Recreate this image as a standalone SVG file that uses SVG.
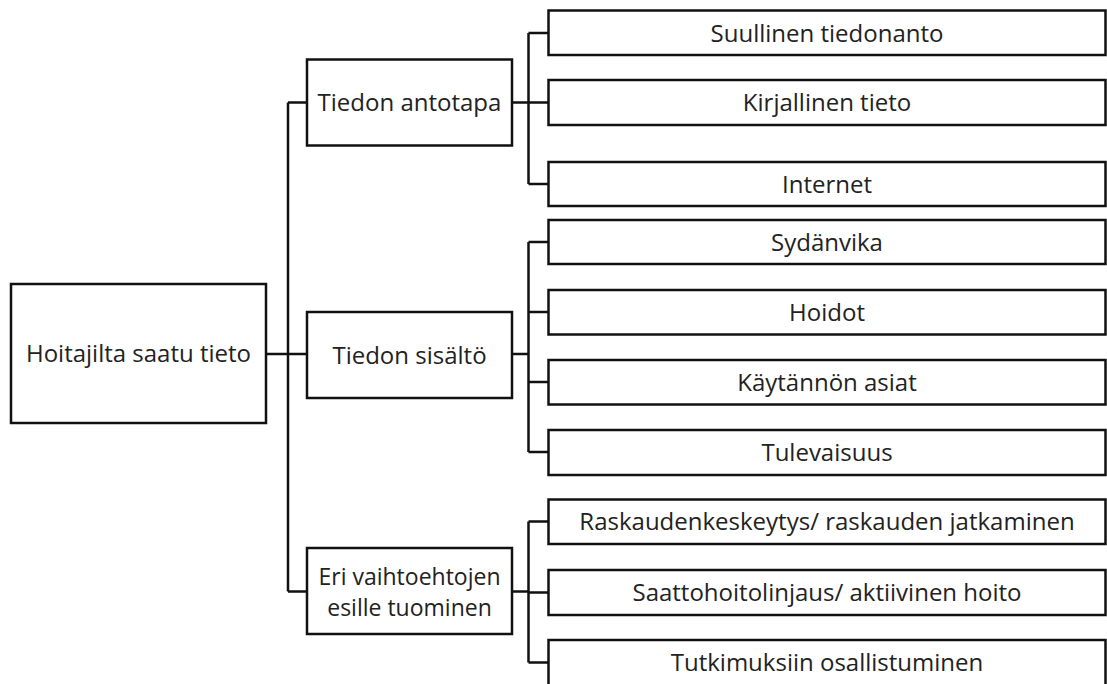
<svg xmlns="http://www.w3.org/2000/svg" width="1107" height="684" viewBox="0 0 1107 684">
<style>
.box{fill:#fff;stroke:#111;stroke-width:2.5}
.t{font-family:"Open Sans","Liberation Sans",sans-serif;font-size:24px;fill:#222;text-anchor:middle}
.t2{font-size:23px}
.c{fill:none;stroke:#111;stroke-width:2.5}
</style>
<rect width="1107" height="684" fill="#fff"/>
<g id="connectors">
<path class="c" d="M266,354 H307 M288,102.5 V591.5 M288,102.5 H307 M288,591.5 H307"/>
<path class="c" d="M512,102.5 H528.5 M528.5,33 V184 M528.5,33 H548.5 M528.5,102.5 H548.5 M528.5,184 H548.5"/>
<path class="c" d="M512,354 H528.5 M528.5,242 V452 M528.5,242 H548.5 M528.5,312 H548.5 M528.5,382 H548.5 M528.5,452 H548.5"/>
<path class="c" d="M512,591.5 H528.5 M528.5,521.5 V662.5 M528.5,521.5 H548.5 M528.5,592.5 H548.5 M528.5,662.5 H548.5"/>
</g>
<g id="root"><rect class="box" x="11" y="284" width="255" height="139"/><text class="t" x="138.5" y="362">Hoitajilta saatu tieto</text></g>
<g id="antotapa"><rect class="box" x="307" y="59.5" width="205" height="86"/><text class="t" x="409.5" y="111">Tiedon antotapa</text></g>
<g id="sisalto"><rect class="box" x="307" y="312" width="205" height="86"/><text class="t" x="409.5" y="363.5">Tiedon sisältö</text></g>
<g id="vaihtoehdot"><rect class="box" x="307" y="548" width="205" height="86"/><text class="t t2" x="409.5" y="584.5">Eri vaihtoehtojen</text><text class="t t2" x="409.5" y="615.5">esille tuominen</text></g>
<g id="suullinen"><rect class="box" x="548.5" y="10.5" width="557" height="44.5"/><text class="t" x="827" y="41.5">Suullinen tiedonanto</text></g>
<g id="kirjallinen"><rect class="box" x="548.5" y="80" width="557" height="45"/><text class="t" x="827" y="111">Kirjallinen tieto</text></g>
<g id="internet"><rect class="box" x="548.5" y="162" width="557" height="44"/><text class="t" x="827" y="192.5">Internet</text></g>
<g id="sydanvika"><rect class="box" x="548.5" y="220" width="557" height="44"/><text class="t" x="827" y="250.5">Sydänvika</text></g>
<g id="hoidot"><rect class="box" x="548.5" y="290" width="557" height="44.5"/><text class="t" x="827" y="320.5">Hoidot</text></g>
<g id="kaytannon"><rect class="box" x="548.5" y="360" width="557" height="44.5"/><text class="t" x="827" y="390.5">Käytännön asiat</text></g>
<g id="tulevaisuus"><rect class="box" x="548.5" y="430" width="557" height="45"/><text class="t" x="827" y="461">Tulevaisuus</text></g>
<g id="raskaus"><rect class="box" x="548.5" y="499.5" width="557" height="44.5"/><text class="t" x="827" y="530">Raskaudenkeskeytys/ raskauden jatkaminen</text></g>
<g id="saattohoito"><rect class="box" x="548.5" y="570" width="557" height="45"/><text class="t" x="827" y="601">Saattohoitolinjaus/ aktiivinen hoito</text></g>
<g id="tutkimukset"><rect class="box" x="548.5" y="640" width="557" height="50"/><text class="t" x="827" y="671">Tutkimuksiin osallistuminen</text></g>
</svg>
